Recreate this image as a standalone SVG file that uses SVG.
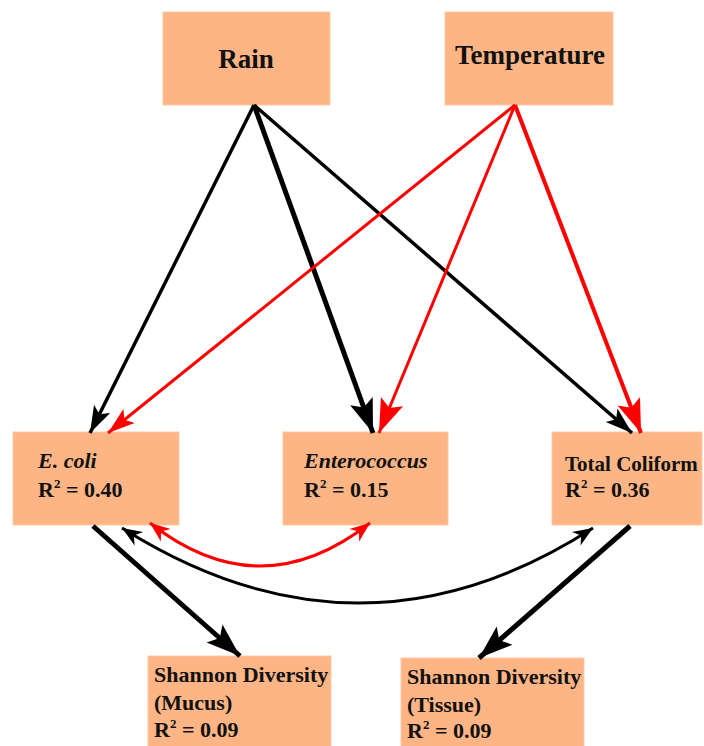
<svg xmlns="http://www.w3.org/2000/svg" width="704" height="746" viewBox="0 0 704 746">
<style>
.box{fill:#FDB585;stroke:#FFC9A3;stroke-width:1}
.t{font-family:"Liberation Serif","Times New Roman",serif;font-weight:bold;fill:#111}
.big{font-size:27px}
.md{font-size:22px}
.sm{font-size:21px}
.sup{font-size:13px}
.blk{fill:none;stroke:#000;stroke-width:3.5}
.blk4{fill:none;stroke:#000;stroke-width:5}
.red{fill:none;stroke:#F00;stroke-width:3}
.red4{fill:none;stroke:#F00;stroke-width:4}
.cv{fill:none;stroke:#000;stroke-width:3}
.cvr{fill:none;stroke:#F00;stroke-width:3}
</style>
<defs>
<marker id="hb" markerUnits="userSpaceOnUse" viewBox="-30 -12 32 24" refX="0" refY="0" markerWidth="32" markerHeight="24" orient="auto"><path d="M0,0 L-27,-9 L-21,0 L-27,9 Z" fill="#000"/></marker>
<marker id="hr" markerUnits="userSpaceOnUse" viewBox="-30 -12 32 24" refX="0" refY="0" markerWidth="32" markerHeight="24" orient="auto"><path d="M0,0 L-27,-9 L-21,0 L-27,9 Z" fill="#F00"/></marker>
<marker id="hbB" markerUnits="userSpaceOnUse" viewBox="-38 -15 40 30" refX="0" refY="0" markerWidth="40" markerHeight="30" orient="auto"><path d="M0,0 L-34,-12 L-27,0 L-34,12 Z" fill="#000"/></marker>
<marker id="hrB" markerUnits="userSpaceOnUse" viewBox="-38 -15 40 30" refX="0" refY="0" markerWidth="40" markerHeight="30" orient="auto"><path d="M0,0 L-34,-12 L-27,0 L-34,12 Z" fill="#F00"/></marker>
<marker id="cb" markerUnits="userSpaceOnUse" viewBox="-22 -10 24 20" refX="0" refY="0" markerWidth="24" markerHeight="20" orient="auto-start-reverse"><path d="M0,0 L-20,-8 L-14,0 L-20,8 Z" fill="#000"/></marker>
<marker id="cr" markerUnits="userSpaceOnUse" viewBox="-22 -10 24 20" refX="0" refY="0" markerWidth="24" markerHeight="20" orient="auto-start-reverse"><path d="M0,0 L-20,-8 L-14,0 L-20,8 Z" fill="#F00"/></marker>
</defs>

<g id="rain"><rect class="box" x="163" y="12" width="167" height="93"/><text class="t big" x="246" y="68" text-anchor="middle">Rain</text></g>
<g id="temperature"><rect class="box" x="445" y="12" width="168" height="93"/><text class="t big" x="530" y="64" text-anchor="middle">Temperature</text></g>
<g id="ecoli"><rect class="box" x="13" y="432" width="166" height="93"/><text class="t md" x="38" y="468" font-style="italic">E. coli</text><text class="t md" x="38" y="497">R<tspan class="sup" dy="-9">2</tspan><tspan dy="9"> = 0.40</tspan></text></g>
<g id="enterococcus"><rect class="box" x="283" y="432" width="165" height="93"/><text class="t md" x="304" y="468" font-style="italic">Enterococcus</text><text class="t md" x="304" y="497">R<tspan class="sup" dy="-9">2</tspan><tspan dy="9"> = 0.15</tspan></text></g>
<g id="totalcoliform"><rect class="box" x="552" y="432" width="150" height="93"/><text class="t sm" x="565" y="471">Total Coliform</text><text class="t md" x="565" y="497">R<tspan class="sup" dy="-9">2</tspan><tspan dy="9"> = 0.36</tspan></text></g>
<g id="shannonmucus"><rect class="box" x="148" y="656" width="183" height="92"/><text class="t md" x="154" y="682">Shannon Diversity</text><text class="t md" x="154" y="710">(Mucus)</text><text class="t md" x="154" y="737">R<tspan class="sup" dy="-9">2</tspan><tspan dy="9"> = 0.09</tspan></text></g>
<g id="shannontissue"><rect class="box" x="401" y="658" width="183" height="90"/><text class="t md" x="407" y="684">Shannon Diversity</text><text class="t md" x="407" y="712">(Tissue)</text><text class="t md" x="407" y="738">R<tspan class="sup" dy="-9">2</tspan><tspan dy="9"> = 0.09</tspan></text></g>

<g id="connectors">
<line class="blk" x1="254" y1="105" x2="90" y2="433" marker-end="url(#hb)"/>
<line class="blk4" x1="254" y1="105" x2="373" y2="433" marker-end="url(#hbB)"/>
<line class="blk" x1="254" y1="105" x2="632" y2="433" marker-end="url(#hb)"/>
<line class="red" x1="515" y1="105" x2="108" y2="433" marker-end="url(#hr)"/>
<line class="red" x1="515" y1="105" x2="379" y2="433" marker-end="url(#hrB)"/>
<line class="red4" x1="515" y1="105" x2="641" y2="433" marker-end="url(#hrB)"/>
<line class="blk4" x1="93" y1="526" x2="240" y2="656" marker-end="url(#hbB)"/>
<line class="blk4" x1="630" y1="526" x2="479" y2="658" marker-end="url(#hbB)"/>
<path class="cvr" d="M150,523 Q260,609 370,523" marker-start="url(#cr)" marker-end="url(#cr)"/>
<path class="cv" d="M122,528 Q360,678 593,528" marker-start="url(#cb)" marker-end="url(#cb)"/>
</g>
</svg>
